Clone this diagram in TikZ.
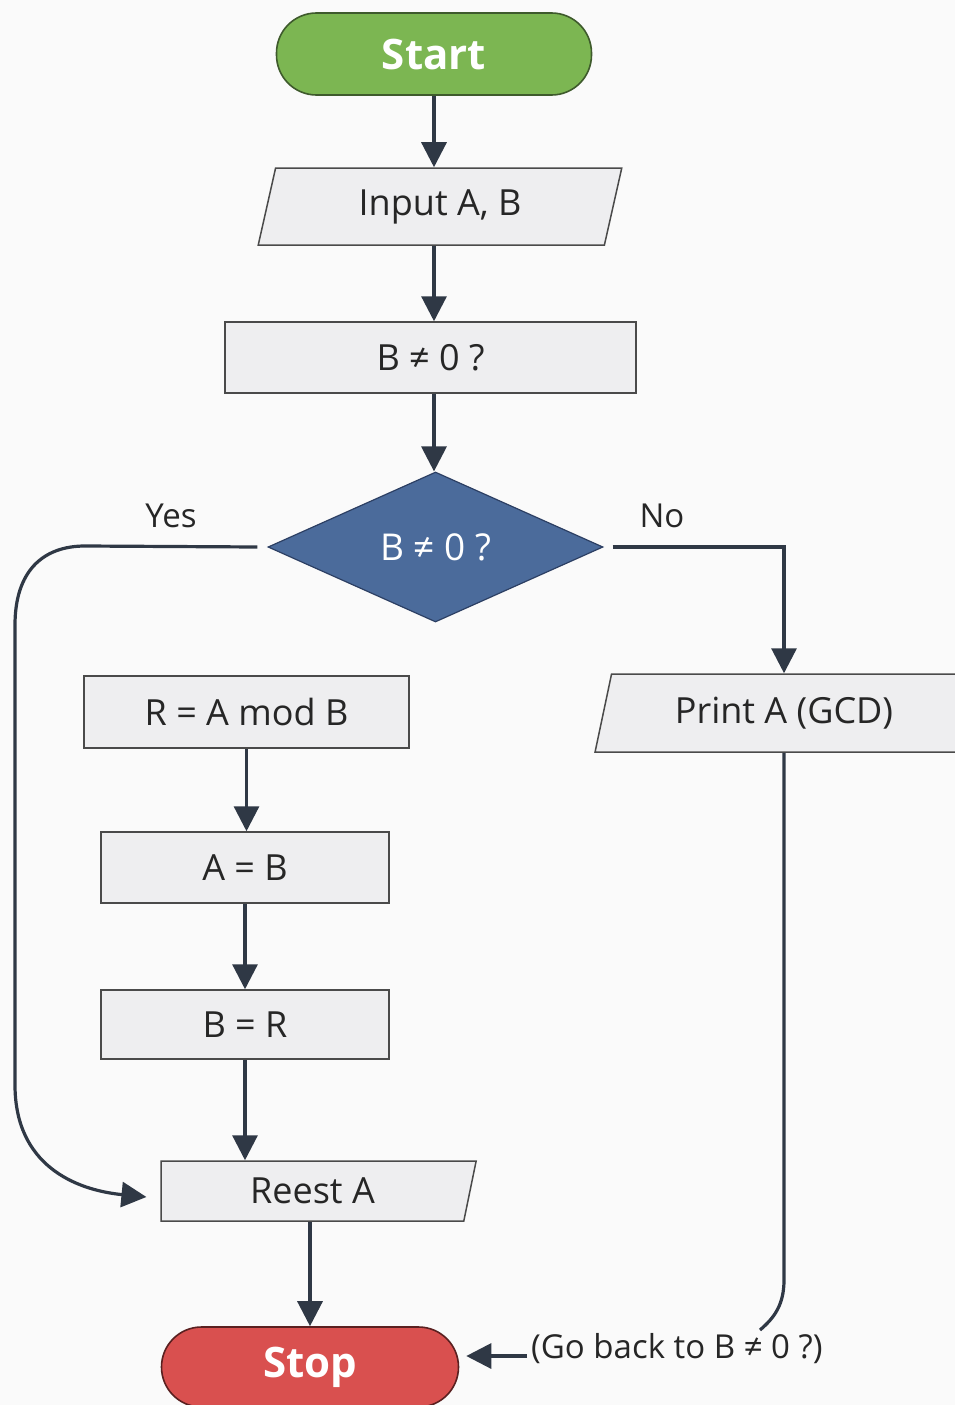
\documentclass[tikz,border=0pt]{standalone}
\usepackage{fontspec}
\setmainfont{Open Sans}
\usetikzlibrary{shapes.geometric,arrows.meta,calc}
\definecolor{bg}{HTML}{FAFAFA}
\definecolor{ink}{HTML}{2F3845}
\definecolor{boxfill}{HTML}{EEEEF0}
\definecolor{boxline}{HTML}{4A4A4A}
\definecolor{txt}{HTML}{262626}
\definecolor{startgreen}{HTML}{7CB652}
\definecolor{startline}{HTML}{3E5A2C}
\definecolor{stopred}{HTML}{D9504F}
\definecolor{stopline}{HTML}{5A2020}
\definecolor{decblue}{HTML}{4B6B9B}
\definecolor{decline}{HTML}{2C3F63}
\begin{document}
\begin{tikzpicture}[x=1pt,y=-1pt,
  wire/.style={draw=ink, line width=3.2pt},
  flow/.style={wire, -{Triangle[length=25pt,width=25pt]}},
  procbox/.style={rectangle, draw=boxline, fill=boxfill, line width=1.5pt,
    text=txt, inner sep=0pt, font=\fontsize{36}{42}\selectfont},
  iobox/.style={procbox, trapezium, trapezium stretches=true},
  terminal/.style={rectangle, rounded corners=40pt, line width=1.6pt,
    text=white, inner sep=0pt, font=\fontsize{42}{48}\selectfont\bfseries},
  lbl/.style={text=txt, inner sep=0pt, font=\fontsize{33}{38}\selectfont},
]
\fill[bg] (0,0) rectangle (955,1405);
\useasboundingbox (0,0) rectangle (955,1405);

% main column
\node[terminal, fill=startgreen, draw=startline, minimum width=315pt, minimum height=82pt] (start) at (434,54) {Start};
\node[iobox, trapezium left angle=76, trapezium right angle=104, minimum width=364pt, minimum height=77pt] (input) at (440,206.5) {Input A, B};
\node[procbox, minimum width=411pt, minimum height=71pt] (cond) at (430.5,357.5) {B ≠ 0 ?};
\node[diamond, aspect=2.23, fill=decblue, draw=decline, line width=1.2pt, text=white, inner sep=0pt,
  minimum width=335pt, minimum height=150pt, font=\fontsize{37}{42}\selectfont] (dec) at (435.5,547) {B ≠ 0 ?};

\node[lbl] (yes) at (171,516) {Yes};
\node[lbl] (no) at (662,516) {No};

% loop body
\node[procbox, minimum width=325pt, minimum height=72pt] (rmod) at (246.5,712) {R = A mod B};
\node[procbox, minimum width=288pt, minimum height=71pt] (ab) at (245,867.5) {A = B};
\node[procbox, minimum width=288pt, minimum height=69pt] (br) at (245,1024.5) {B = R};
\node[iobox, trapezium left angle=90, trapezium right angle=101, minimum width=315pt, minimum height=60pt] (reest) at (312.5,1191) {Reest A};
\node[terminal, fill=stopred, draw=stopline, minimum width=297pt, minimum height=80pt] (stop) at (310,1367) {Stop};

% output branch
\node[iobox, trapezium left angle=72, trapezium right angle=108, minimum width=378pt, minimum height=78pt] (print) at (784,713) {Print A (GCD)};
\node[lbl, anchor=west] (goback) at (531,1349) {(Go back to B ≠ 0 ?)};
\coordinate (backend) at (760,1330);

% connectors
\draw[flow] (start.south) -- (start.south |- input.north);
\draw[flow] (start.south |- input.south) -- (start.south |- cond.north);
\draw[flow] (start.south |- cond.south) -- (start.south |- dec.north);

\draw[flow] ([xshift=-10pt]dec.west) -- (85,546)
  .. controls (42,546) and (15,572) .. (15,625) -- (15,1085)
  .. controls (15,1165) and (75,1190) .. ([xshift=-14pt,yshift=-6pt]reest.west);
\draw[flow] ([xshift=9pt]dec.east) -| (print.north);

\draw[flow] (rmod.south) -- (rmod.south |- ab.north);
\draw[flow] (ab.south) -- (ab.south |- br.north);
\draw[flow] (br.south) -- (br.south |- reest.north);
\draw[flow] (stop.north |- reest.south) -- (stop.north);

\draw[wire] (print.south) -- (784,1280) .. controls (784,1305) and (774,1318) .. (backend);
\draw[flow] ([xshift=-4pt,yshift=-7pt]goback.west) -- ([xshift=7pt]stop.east |- 0,1356);
\end{tikzpicture}
\end{document}
